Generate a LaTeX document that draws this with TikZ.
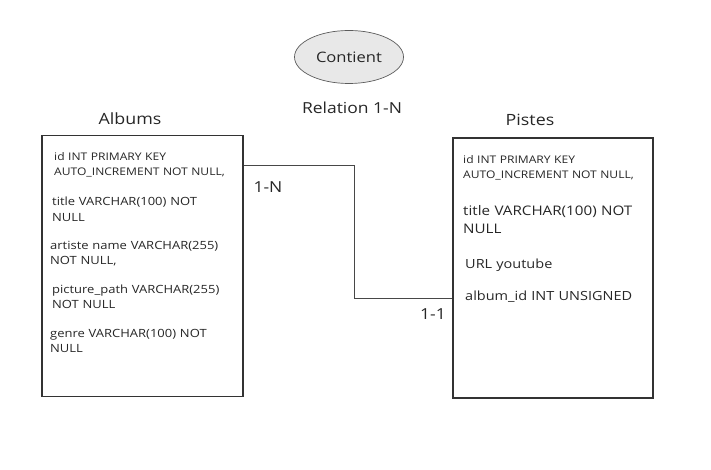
\documentclass[tikz,border=0pt]{standalone}
\usepackage{fontspec}
\setmainfont[FakeStretch=1.15]{Open Sans}
\usetikzlibrary{shapes.geometric,calc}
\definecolor{boxline}{HTML}{333333}
\definecolor{txt}{HTML}{262626}
\definecolor{ellfill}{HTML}{E8E8E8}
\begin{document}
\begin{tikzpicture}[x=1pt,y=-1pt,
  table/.style={draw=boxline,line width=1.5pt,rectangle,inner sep=0pt},
  field/.style={anchor=base west,align=left,text width=195pt,inner sep=0pt,text=txt},
  aid/.style={font=\fontsize{10.5}{14.5}\selectfont},
  afld/.style={font=\fontsize{11.3}{15.5}\selectfont},
  pid/.style={font=\fontsize{10.5}{15}\selectfont},
  big/.style={font=\fontsize{13.2}{18.3}\selectfont},
  mid/.style={font=\fontsize{12.6}{18}\selectfont},
  title/.style={anchor=base,font=\fontsize{15.5}{19}\selectfont,text=txt},
  conn/.style={draw=boxline!90,line width=0.9pt},
  card/.style={anchor=base,font=\fontsize{15.2}{18}\selectfont,text=txt}]
\useasboundingbox (0,0) rectangle (711,470);
% tables
\node[table,minimum width=201pt,minimum height=261pt] (albums) at (142.5,266) {};
\node[table,minimum width=200pt,minimum height=260pt] (pistes) at (553,268) {};
\node[title] (talb) at (130,125) {Albums};
\node[title] (tpis) at (530,126) {Pistes};
% relation
\node[ellipse,draw=boxline!80,fill=ellfill,line width=0.7pt,minimum width=109pt,minimum height=53pt,inner sep=0pt] (rel) at (349,57) {};
\node[anchor=base,font=\fontsize{14.4}{17}\selectfont,text=txt] (reltitle) at (349,62.3) {Contient};
\node[title,font=\fontsize{15.2}{18}\selectfont] (reltxt) at (352,113.3) {Relation 1-N};
% Albums fields
\node[field,aid] (a1) at (54,160.7) {id INT PRIMARY KEY\\AUTO\_INCREMENT NOT NULL,};
\node[field,afld] (a2) at (52,206) {title VARCHAR(100) NOT\\NULL};
\node[field,afld] (a3) at (50,249.3) {artiste name VARCHAR(255)\\NOT NULL,};
\node[field,afld] (a4) at (52,293.3) {picture\_path VARCHAR(255)\\NOT NULL};
\node[field,afld] (a5) at (50,337.3) {genre VARCHAR(100) NOT\\NULL};
% Pistes fields
\node[field,pid] (p1) at (463,163.3) {id INT PRIMARY KEY\\AUTO\_INCREMENT NOT NULL,};
\node[field,big] (p2) at (463,215) {title VARCHAR(100) NOT\\NULL};
\node[field,mid] (p3) at (465,268.3) {URL youtube};
\node[field,mid] (p4) at (465,300) {album\_id INT UNSIGNED};
% connector
\coordinate (bend) at (354,298);
\draw[conn] ([yshift=-31pt]albums.north east) -| (bend) -- (bend -| pistes.west);
\node[card] (c1) at (268,192.3) {1-N};
\node[card] (c2) at (433,319.3) {1-1};
\end{tikzpicture}
\end{document}
